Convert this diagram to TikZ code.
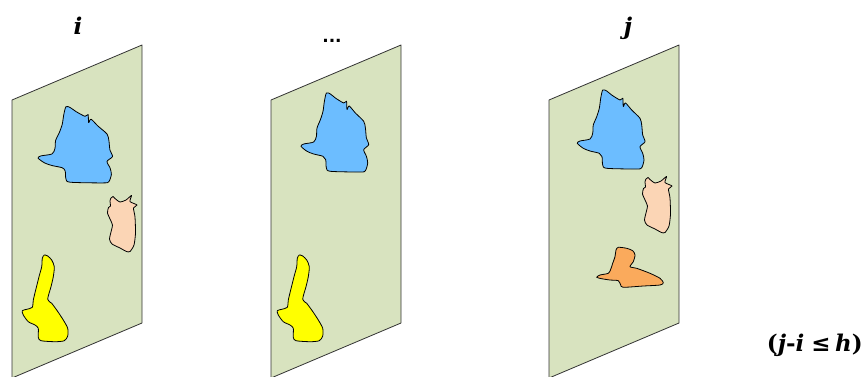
\documentclass[tikz,border=0pt]{standalone}
\usepackage{fontspec}
\usetikzlibrary{calc}

\newfontfamily\lblserif{DejaVu Serif}
\newfontfamily\lblsans{DejaVu Sans}

\definecolor{sheetgreen}{RGB}{216,227,191}
\definecolor{blobblue}{RGB}{108,189,255}
\definecolor{blobpeach}{RGB}{251,213,181}
\definecolor{bloborange}{RGB}{250,170,92}
\definecolor{blobyellow}{RGB}{255,255,0}

\tikzset{
  sheet/.style={fill=sheetgreen, draw=black!80, line width=0.8pt, line join=round},
  blob/.style={draw=black, line width=0.8pt, line join=round},
  lbl/.style={inner sep=0pt, font=\lblserif\bfseries\fontsize{23}{27}\selectfont},
  % irregular regions, local frame: x to the right, y downward
  blueblob/.pic={
    \draw[blob, fill=blobblue] plot[smooth cycle, tension=.45] coordinates {
      (25.7,1) (29.7,2) (34.7,6) (43,11) (45.8,9.2) (46.3,17.5) (48.5,14)
      (54.7,21) (63,29.3) (64.7,36) (65.7,46) (68,52.7) (63,57.7) (65.7,64.3)
      (67,71) (64.7,78.7) (59.7,80) (29.7,79.3) (25.7,76) (25,67.7) (22.3,64.3)
      (13,62) (6.3,59.3) (0.3,54.3) (3,52) (13,50) (15.7,44.3) (16.3,36)
      (19.7,27.7) (22.3,19.3) (23.7,9.3)};
  },
  yellowblob/.pic={
    \draw[blob, fill=blobyellow] plot[smooth cycle, tension=.45] coordinates {
      (22.3,0) (25.7,1) (29.7,5) (32.3,11.7) (31.3,21.7) (29,31.7) (25.7,44.3)
      (29.7,48.3) (34.7,55) (41.3,65) (45.7,73.3) (45.7,81) (42.3,85.7)
      (33,86.7) (19,85.7) (16.3,82.3) (16.3,73.3) (13,70) (6.3,66.7) (1.3,60)
      (0.3,55.7) (4.7,54.3) (10.3,52.3) (11.3,45) (13.7,35) (17,21.7)
      (19.7,11.7) (20.3,3.3)};
  },
  peachblob/.pic={
    \draw[blob, fill=blobpeach] plot[smooth cycle, tension=.4] coordinates {
      (4,3) (6,1.5) (8,3.5) (13,7) (19,5) (24.5,0.5) (23,6.5) (30,10)
      (26.5,13) (28,22) (28.5,38) (27,50) (23,56.5) (19.5,56.5) (13,53)
      (5,49) (2.5,44) (4.5,35) (5.5,30) (3.5,25) (0.5,18) (1.5,12.5)
      (3.5,11) (3,6)};
  },
  orangeblob/.pic={
    \draw[blob, fill=bloborange] plot[smooth cycle, tension=.45] coordinates {
      (22.3,1.3) (30.7,2.3) (36.7,4.7) (39,9) (37.3,15.7) (34,20.7)
      (40.7,22.3) (54,27.3) (64,32.3) (67.3,36.7) (64,39) (47.3,40)
      (27.3,41.3) (24.7,39) (22.3,34.7) (14,34) (5.7,32.7) (0.7,31.3)
      (4,29) (12.3,27.3) (14.7,23.3) (16.7,17.3) (19,10.7) (20,4)};
  },
}

\newcommand{\condtext}{(\textit{j}-\textit{i}\hspace{0.3em}≤\hspace{0.2em}\textit{h})}

\begin{document}
\begin{tikzpicture}[x=1pt, y=-1pt]
  \useasboundingbox (0,0) rectangle (864,376);

  % three sheets, each a sheared rectangle
  \foreach \sname/\sx in {sheetA/12, sheetB/271, sheetC/549} {
    \coordinate (\sname) at (\sx,100);
    \draw[sheet] (\sname) -- ++(130,-55) -- ++(0,278) -- ++(-130,55) -- cycle;
  }

  % regions on the first sheet
  \pic[xscale=1.1, yscale=0.965] at (37.7,105.7) {blueblob};
  \pic at (107,195) {peachblob};
  \pic at (22,255) {yellowblob};

  % regions on the middle sheet
  \pic at (300.7,92) {blueblob};
  \pic at (277,255) {yellowblob};

  % regions on the last sheet
  \pic at (577,89) {blueblob};
  \pic at (642,176) {peachblob};
  \pic at (596,246) {orangeblob};

  % labels
  \node[lbl, anchor=base] (li) at (78,34.5) {\itshape i};
  \node[lbl, anchor=base, font=\lblsans\bfseries\fontsize{17}{20}\selectfont] (ldots) at (332,42) {...};
  \node[lbl, anchor=base] (lj) at (628,34.5) {\itshape j};
  \node[lbl, anchor=base east] (lcond) at (863,351) {\condtext};
\end{tikzpicture}
\end{document}
